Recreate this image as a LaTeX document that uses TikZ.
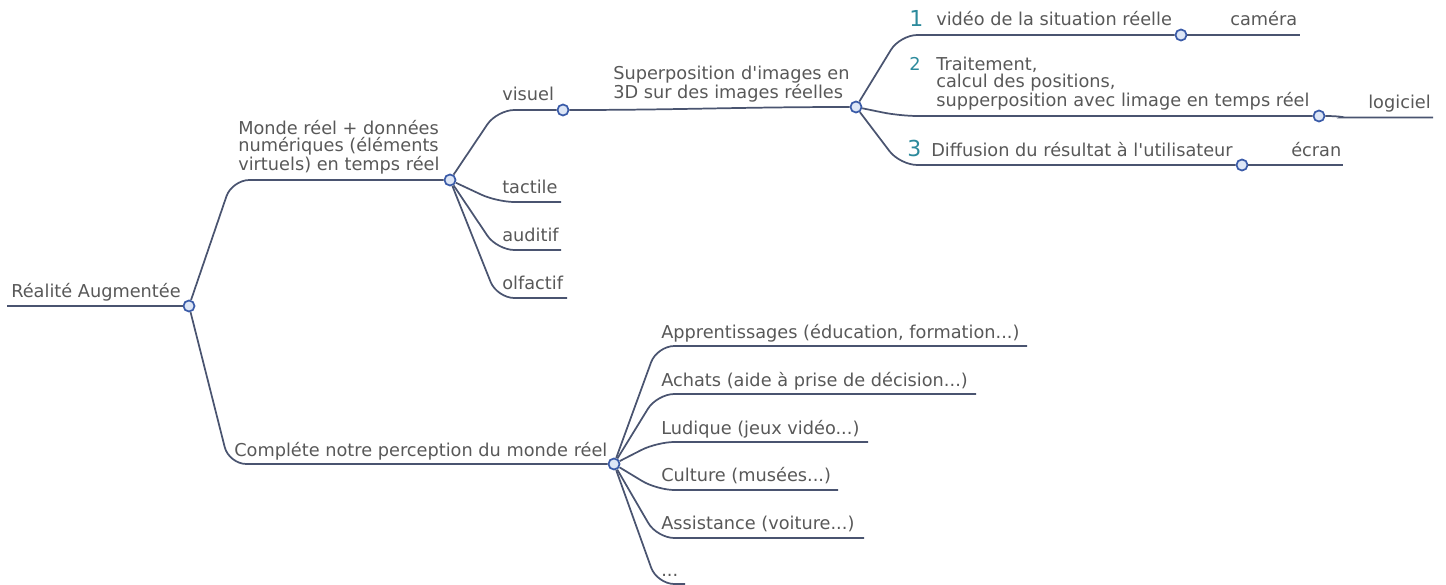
\documentclass[tikz,border=0pt]{standalone}
\usepackage{fontspec}
\setmainfont{DejaVu Sans}
\definecolor{edgec}{HTML}{4A5470}
\definecolor{txtc}{HTML}{585858}
\definecolor{numc}{HTML}{2C8A9C}
\definecolor{dotc}{HTML}{3A5BA8}
\definecolor{dotf}{HTML}{DDE6F6}
\begin{document}
\begin{tikzpicture}[x=0.75pt,y=-0.75pt,
  lbl/.style={anchor=south west, inner sep=0pt, text depth=0pt, text=txtc,
    font=\fontsize{13.3}{12.75}\selectfont, align=left},
  num/.style={lbl, text=numc},
  bignum/.style={num, font=\fontsize{16.5}{15}\selectfont},
  dot/.style={circle, draw=dotc, fill=dotf, line width=1.3pt, minimum size=8.3pt, inner sep=0pt},
  br/.style={draw=edgec, line width=1.3pt, rounded corners=13pt},
  ]
\useasboundingbox (0,0) rectangle (1446,585);

% hub circles
\node[dot] (R) at (189,306) {};
\node[dot] (M) at (450,180) {};
\node[dot] (V) at (563,110) {};
\node[dot] (S) at (856,107) {};
\node[dot] (C1) at (1181,35) {};
\node[dot] (C2) at (1319,116) {};
\node[dot] (C3) at (1242,165) {};
\node[dot] (P) at (614,464) {};

% corner and end coordinates
\coordinate (r0) at (7,306);
\coordinate (kA) at (232,180);
\coordinate (kB) at (229,464);
\coordinate (kV) at (497,110);
\coordinate (kT) at (497,202);
\coordinate (eT) at (561,202);
\coordinate (kAu) at (497,250);
\coordinate (eAu) at (561,250);
\coordinate (kO) at (497,298);
\coordinate (eO) at (567,298);
\coordinate (k1) at (900,35);
\coordinate (e1) at (1300,35);
\coordinate (k2) at (900,116);
\coordinate (k3) at (900,165);
\coordinate (e3) at (1343,165);
\coordinate (kL) at (1360,117.5);
\coordinate (eL) at (1433,117.5);
\coordinate (kc1) at (657,346);
\coordinate (ec1) at (1027,346);
\coordinate (kc2) at (657,394);
\coordinate (ec2) at (976,394);
\coordinate (kc3) at (657,442);
\coordinate (ec3) at (868,442);
\coordinate (kc4) at (657,490);
\coordinate (ec4) at (838,490);
\coordinate (kc5) at (657,538);
\coordinate (ec5) at (864,538);
\coordinate (kc6) at (657,584);
\coordinate (ec6) at (685,584);

% connectors
\draw[br] (r0) -- (R);
\draw[br] (R) -- (kA) -- (M);
\draw[br] (R) -- (kB) -- (P);
\draw[br] (M) -- (kV) -- (V);
\draw[br] (M) -- (kT) -- (eT);
\draw[br] (M) -- (kAu) -- (eAu);
\draw[br] (M) -- (kO) -- (eO);
\draw[br] (V) to[out=0,in=180] (S);
\draw[br] (S) -- (k1) -- (C1);
\draw[br] (C1) -- (e1);
\draw[br] (S) -- (k2) -- (C2);
\draw[br] (C2) to[out=0,in=180] (kL) -- (eL);
\draw[br] (S) -- (k3) -- (C3);
\draw[br] (C3) -- (e3);
\draw[br] (P) -- (kc1) -- (ec1);
\draw[br] (P) -- (kc2) -- (ec2);
\draw[br] (P) -- (kc3) -- (ec3);
\draw[br] (P) -- (kc4) -- (ec4);
\draw[br] (P) -- (kc5) -- (ec5);
\draw[br] (P) -- (kc6) -- (ec6);

% labels
\node[lbl] (tR) at (11,297.5) {Réalité Augmentée};
\node[lbl] (tM) at (238,171) {Monde réel + données\\numériques (éléments\\virtuels) en temps réel};
\node[lbl] (tV) at (502,100.5) {visuel};
\node[lbl] (tT) at (502,194) {tactile};
\node[lbl] (tA) at (502,242) {auditif};
\node[lbl] (tO) at (502,290) {olfactif};
\node[lbl] (tS) at (613,99) {Superposition d\textquotesingle images en\\3D sur des images réelles};
\node[bignum] (n1) at (909,26.5) {1};
\node[lbl] (t1) at (936,26) {vidéo de la situation réelle};
\node[lbl] (tc) at (1230,26) {caméra};
\node[num] (n2) at (909,70.5) {2};
\node[lbl] (t2) at (936,106.5) {Traitement,\\calcul des positions,\\supperposition avec limage en temps réel};
\node[lbl] (tl) at (1368,109) {logiciel};
\node[bignum] (n3) at (907,157) {3};
\node[lbl] (t3) at (931,156.5) {Diffusion du résultat à l\textquotesingle utilisateur};
\node[lbl] (te) at (1291,156.5) {écran};
\node[lbl] (tP) at (234,457) {Compléte notre perception du monde réel};
\node[lbl] (tc1) at (661,339) {Apprentissages (éducation, formation...)};
\node[lbl] (tc2) at (661,387) {Achats (aide à prise de décision...)};
\node[lbl] (tc3) at (661,435) {Ludique (jeux vidéo...)};
\node[lbl] (tc4) at (661,482) {Culture (musées...)};
\node[lbl] (tc5) at (661,530) {Assistance (voiture...)};
\node[lbl] (tc6) at (661,577) {...};
\end{tikzpicture}
\end{document}
